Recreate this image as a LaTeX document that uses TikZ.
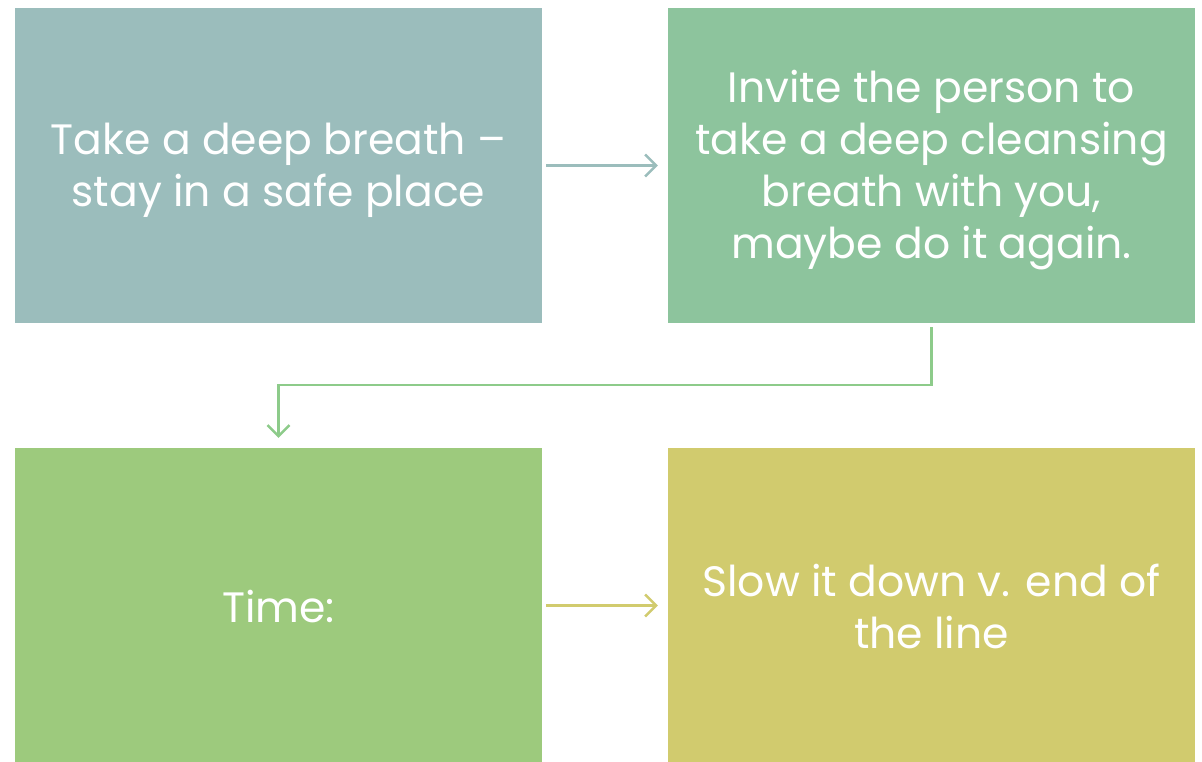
\documentclass[tikz,border=0pt]{standalone}
\usepackage{fontspec}
\setmainfont{Poppins}
\usetikzlibrary{arrows.meta}
\definecolor{cA}{HTML}{9BBDBC}
\definecolor{cB}{HTML}{8DC49D}
\definecolor{cC}{HTML}{9DCA7D}
\definecolor{cD}{HTML}{D1CB6E}
\definecolor{cE}{HTML}{8DCB8A}
\tikzset{
  box/.style={draw=none, minimum width=527pt, minimum height=315pt, inner sep=0pt},
  boxtext/.style={inner sep=0pt, text=white, align=center, font=\fontsize{42.5}{52}\selectfont},
  conn/.style={line width=2.5pt, -{Straight Barb[length=11pt,width=22pt,line width=2.5pt]}},
}
\begin{document}
\begin{tikzpicture}[x=1pt,y=-1pt]
\useasboundingbox (0,0) rectangle (1202,762);
\node[box, fill=cA] (b1) at (278.5,165.5) {};
\node[box, fill=cB] (b2) at (931.5,165.5) {};
\node[box, fill=cC] (b3) at (278.5,605.5) {};
\node[box, fill=cD] (b4) at (931.5,605.5) {};
\node[boxtext] (t1) at ([yshift=-5pt]b1.center) {Take a deep breath –\\stay in a safe place};
\node[boxtext] (t2) at ([yshift=-5pt]b2.center) {Invite the person to\\take a deep cleansing\\breath with you,\\maybe do it again.};
\node[boxtext] (t3) at ([yshift=-1pt]b3.center) {Time:};
\node[boxtext] (t4) at ([yshift=-1pt]b4.center) {Slow it down v. end of\\the line};
\draw[conn, draw=cA] ([xshift=4pt]b1.east) -- ([xshift=-10pt]b2.west);
\draw[conn, draw=cD] ([xshift=4pt]b3.east) -- ([xshift=-10pt]b4.west);
\coordinate (e1) at (931.5,385);
\coordinate (e2) at (278.5,385);
\draw[conn, draw=cE] ([yshift=-4pt]b2.south) -- (e1) -- (e2) -- ([yshift=10pt]b3.north);
\end{tikzpicture}
\end{document}
